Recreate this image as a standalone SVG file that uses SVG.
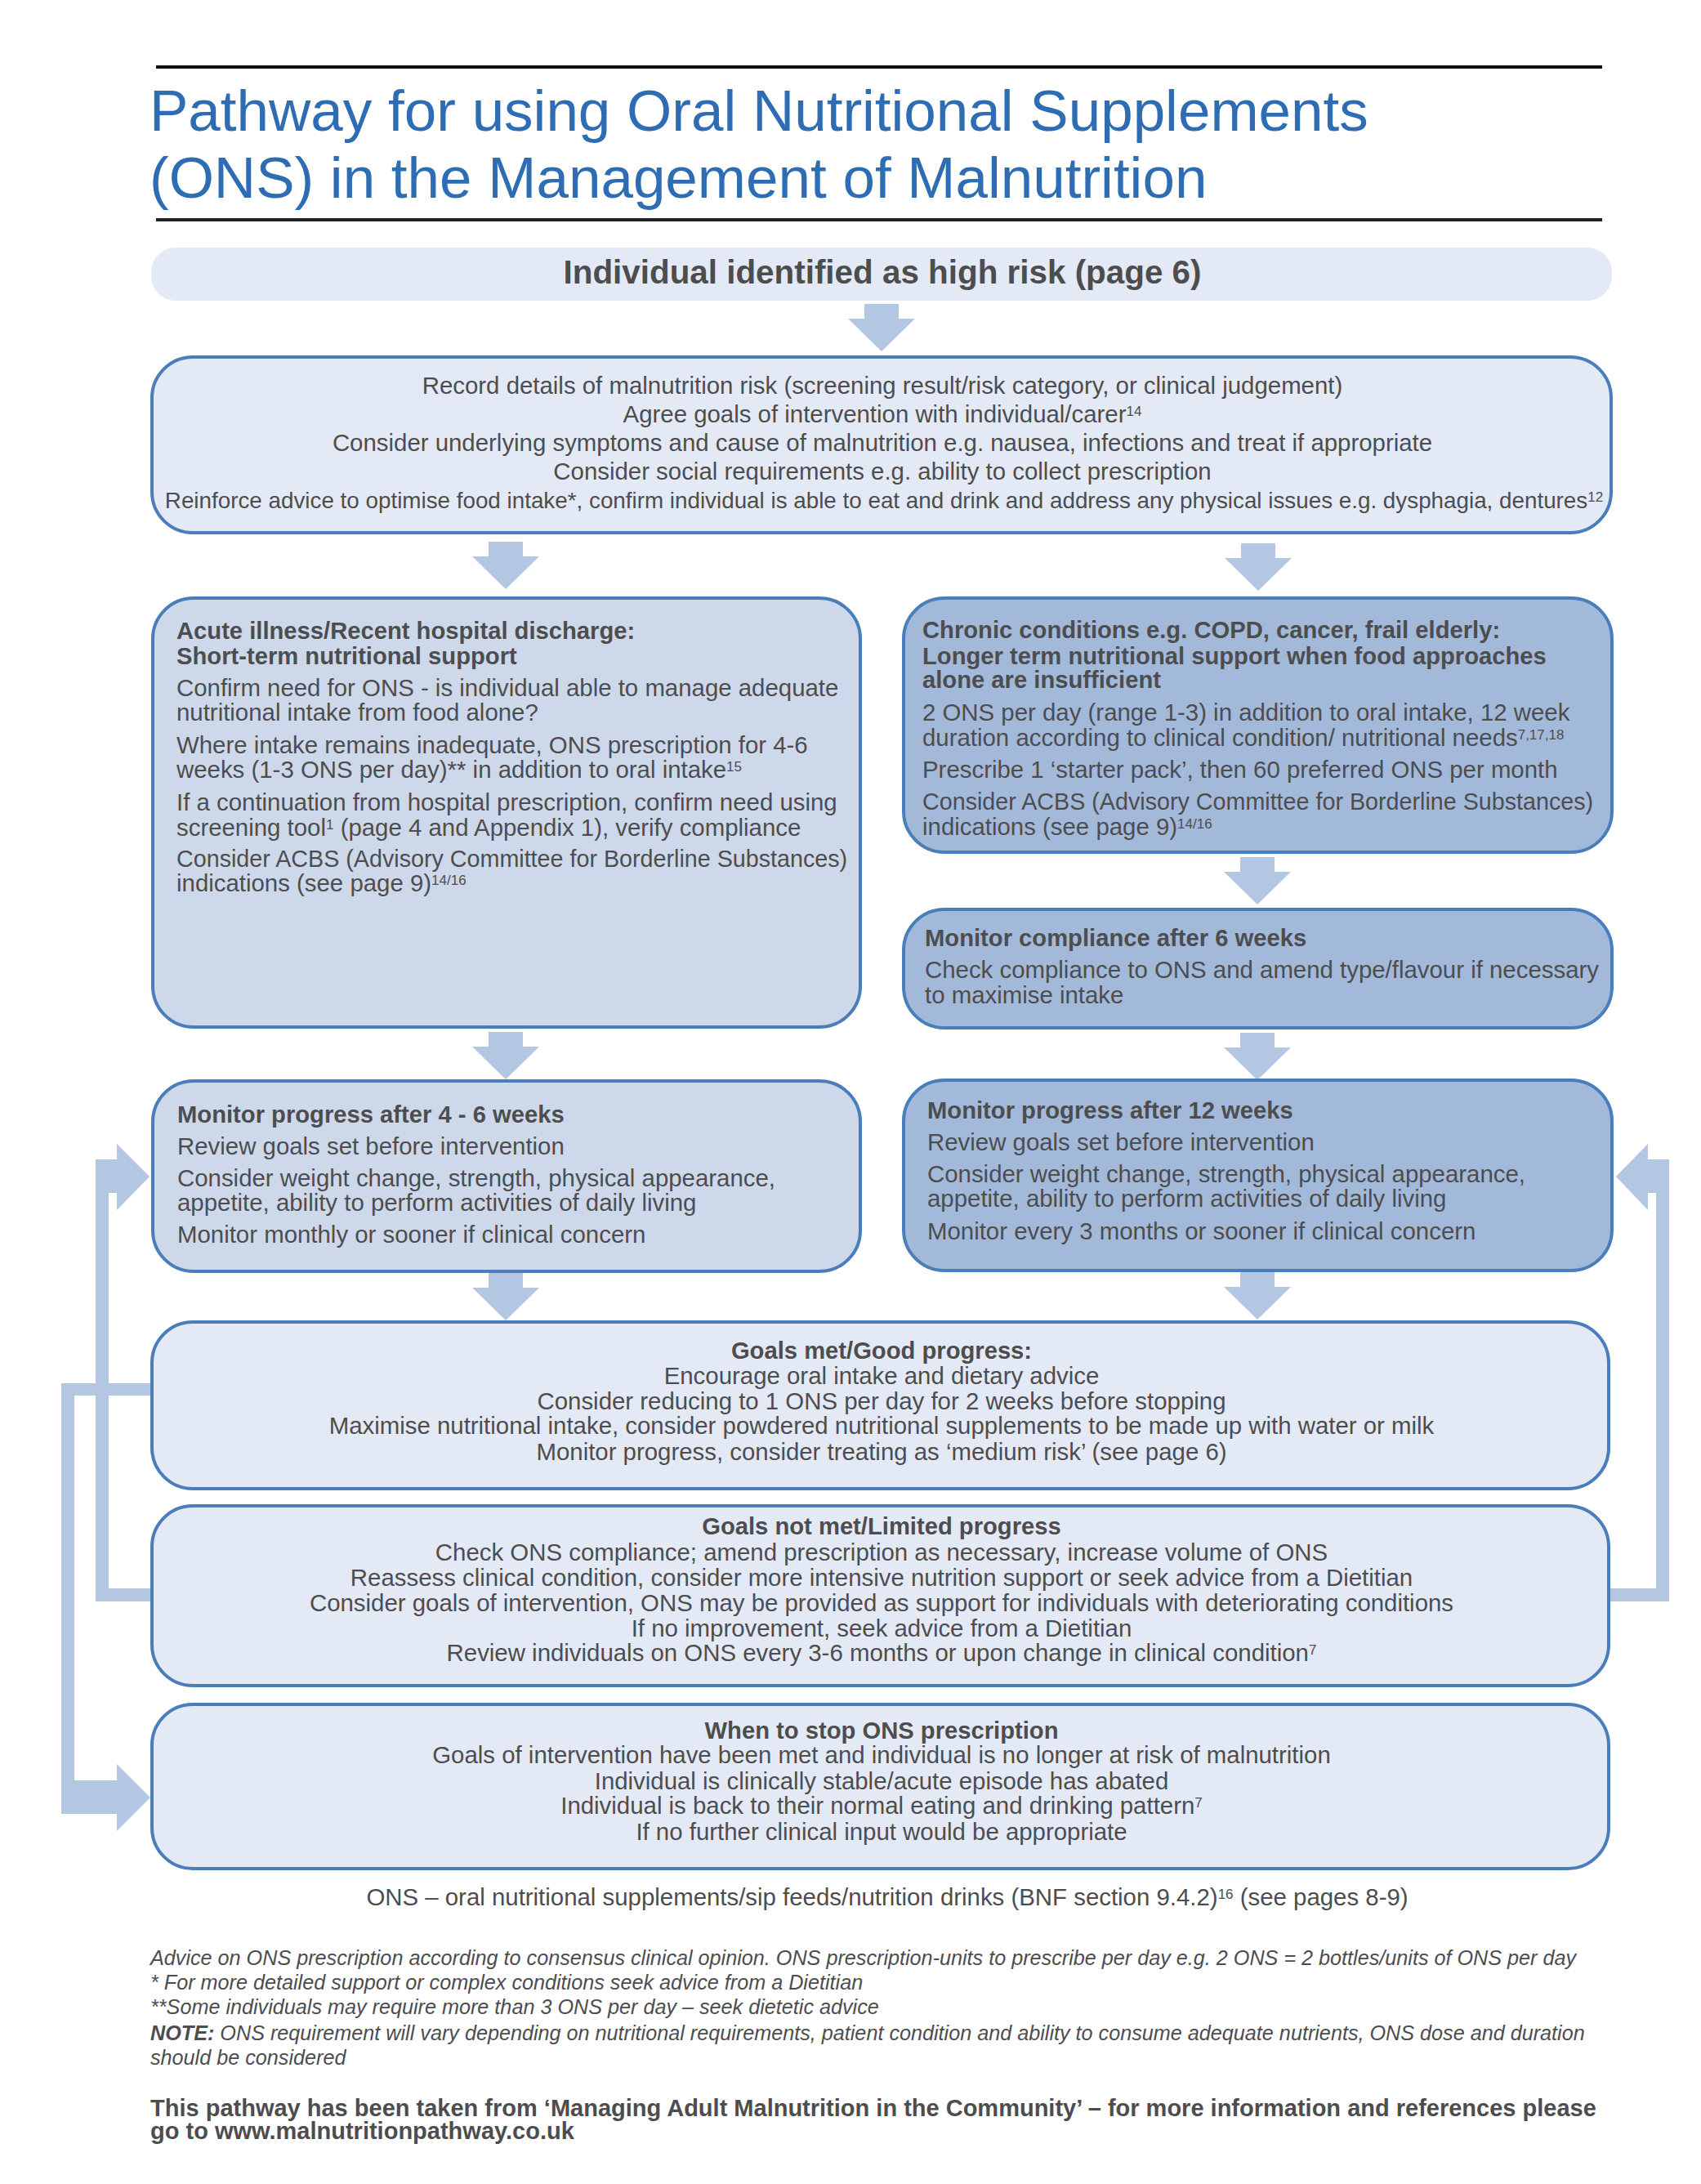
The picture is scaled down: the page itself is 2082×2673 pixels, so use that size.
<svg xmlns="http://www.w3.org/2000/svg" width="2082" height="2673" viewBox="0 0 2082 2673">
<defs>
<style>
text{font-family:"Liberation Sans",Arial,Helvetica,sans-serif;fill:#4d4d4f;}
.title{font-size:71px;fill:#2e6db3;}
.banner{font-size:40.4px;font-weight:bold;}
.t{font-size:29.4px;}
.b{font-size:29.2px;font-weight:bold;}
.acbs{font-size:28.7px;}
.long{font-size:27.8px;}
.c{text-anchor:middle;}
.sup{font-size:17px;baseline-shift:45%;}
.note{font-size:25.2px;font-style:italic;}
.fb{font-size:29px;font-weight:bold;}
.box{stroke:#4a7ebb;stroke-width:4;}
.light{fill:#e4eaf5;}
.mid{fill:#cdd9ea;}
.dark{fill:#a3b9da;}
.arr{fill:#b3c6e2;}
</style>
<path id="darr" d="M-21 0 H21 V18 H41 L0 58 L-41 18 H-21 Z"/>
</defs>
<rect width="2082" height="2673" fill="#ffffff"/>
<g id="header">
<rect x="191" y="80" width="1770" height="4" fill="#111"/>
<text class="title" x="183" y="160">Pathway for using Oral Nutritional Supplements</text>
<text class="title" x="183" y="242">(ONS) in the Management of Malnutrition</text>
<rect x="191" y="267" width="1770" height="4" fill="#222"/>
</g>
<g id="connectors" class="arr">
<use href="#darr" x="1079" y="372"/>
<use href="#darr" x="619" y="663"/>
<use href="#darr" x="1540" y="665"/>
<use href="#darr" x="1539" y="1049"/>
<use href="#darr" x="619" y="1263"/>
<use href="#darr" x="1539" y="1264"/>
<use href="#darr" x="619" y="1558"/>
<use href="#darr" x="1539" y="1557"/>
<path d="M185 1944 H133 V1460 H143 V1481 L183 1440 L143 1400 V1419 H117 V1960 H185 Z"/>
<path d="M185 1693 H75 V2220 H143 V2241 L184 2200 L143 2159 V2179 H91 V1708 H185 Z"/>
<path d="M1968 1944 H2027 V1460 H2017 V1481 L1978 1440 L2017 1400 V1419 H2043 V1960 H1968 Z"/>
</g>
<g id="n-banner">
<rect x="185" y="303" width="1788" height="65" rx="30" fill="#e4eaf5"/>
<text class="banner c" x="1080" y="347">Individual identified as high risk (page 6)</text>
</g>
<g id="n-record">
<rect class="box light" x="186" y="437" width="1786" height="215" rx="50"/>
<text class="t c" x="1080" y="482">Record details of malnutrition risk (screening result/risk category, or clinical judgement)</text>
<text class="t c" x="1080" y="517">Agree goals of intervention with individual/carer<tspan class="sup">14</tspan></text>
<text class="t c" x="1080" y="552">Consider underlying symptoms and cause of malnutrition e.g. nausea, infections and treat if appropriate</text>
<text class="t c" x="1080" y="587">Consider social requirements e.g. ability to collect prescription</text>
<text class="long c" x="1082" y="622">Reinforce advice to optimise food intake*, confirm individual is able to eat and drink and address any physical issues e.g. dysphagia, dentures<tspan class="sup">12</tspan></text>
</g>
<g id="n-acute">
<rect class="box mid" x="187" y="732" width="866" height="525" rx="50"/>
<text class="b" x="216" y="782">Acute illness/Recent hospital discharge:</text>
<text class="b" x="216" y="813">Short-term nutritional support</text>
<text class="t" x="216" y="852">Confirm need for ONS - is individual able to manage adequate</text>
<text class="t" x="216" y="882">nutritional intake from food alone?</text>
<text class="t" x="216" y="922">Where intake remains inadequate, ONS prescription for 4-6</text>
<text class="t" x="216" y="952">weeks (1-3 ONS per day)** in addition to oral intake<tspan class="sup">15</tspan></text>
<text class="t" x="216" y="992">If a continuation from hospital prescription, confirm need using</text>
<text class="t" x="216" y="1023">screening tool<tspan class="sup">1</tspan> (page 4 and Appendix 1), verify compliance</text>
<text class="acbs" x="216" y="1061">Consider ACBS (Advisory Committee for Borderline Substances)</text>
<text class="t" x="216" y="1091">indications (see page 9)<tspan class="sup">14/16</tspan></text>
</g>
<g id="n-chronic">
<rect class="box dark" x="1106" y="732" width="867" height="311" rx="50"/>
<text class="b" x="1129" y="781">Chronic conditions e.g. COPD, cancer, frail elderly:</text>
<text class="b" x="1129" y="813">Longer term nutritional support when food approaches</text>
<text class="b" x="1129" y="842">alone are insufficient</text>
<text class="t" x="1129" y="882">2 ONS per day (range 1-3) in addition to oral intake, 12 week</text>
<text class="t" x="1129" y="913">duration according to clinical condition/ nutritional needs<tspan class="sup">7,17,18</tspan></text>
<text class="t" x="1129" y="952">Prescribe 1 ‘starter pack’, then 60 preferred ONS per month</text>
<text class="acbs" x="1129" y="991">Consider ACBS (Advisory Committee for Borderline Substances)</text>
<text class="t" x="1129" y="1022">indications (see page 9)<tspan class="sup">14/16</tspan></text>
</g>
<g id="n-compliance">
<rect class="box dark" x="1106" y="1113" width="867" height="145" rx="50"/>
<text class="b" x="1132" y="1158">Monitor compliance after 6 weeks</text>
<text class="t" x="1132" y="1197">Check compliance to ONS and amend type/flavour if necessary</text>
<text class="t" x="1132" y="1228">to maximise intake</text>
</g>
<g id="n-monitor46">
<rect class="box mid" x="187" y="1323" width="866" height="233" rx="50"/>
<text class="b" x="217" y="1374">Monitor progress after 4 - 6 weeks</text>
<text class="t" x="217" y="1413">Review goals set before intervention</text>
<text class="t" x="217" y="1452">Consider weight change, strength, physical appearance,</text>
<text class="t" x="217" y="1482">appetite, ability to perform activities of daily living</text>
<text class="t" x="217" y="1521">Monitor monthly or sooner if clinical concern</text>
</g>
<g id="n-monitor12">
<rect class="box dark" x="1106" y="1322" width="867" height="233" rx="50"/>
<text class="b" x="1135" y="1369">Monitor progress after 12 weeks</text>
<text class="t" x="1135" y="1408">Review goals set before intervention</text>
<text class="t" x="1135" y="1447">Consider weight change, strength, physical appearance,</text>
<text class="t" x="1135" y="1477">appetite, ability to perform activities of daily living</text>
<text class="t" x="1135" y="1517">Monitor every 3 months or sooner if clinical concern</text>
</g>
<g id="n-goalsmet">
<rect class="box light" x="186" y="1618" width="1783" height="204" rx="50"/>
<text class="b c" x="1079" y="1663">Goals met/Good progress:</text>
<text class="t c" x="1079" y="1694">Encourage oral intake and dietary advice</text>
<text class="t c" x="1079" y="1725">Consider reducing to 1 ONS per day for 2 weeks before stopping</text>
<text class="t c" x="1079" y="1755">Maximise nutritional intake, consider powdered nutritional supplements to be made up with water or milk</text>
<text class="t c" x="1079" y="1787">Monitor progress, consider treating as ‘medium risk’ (see page 6)</text>
</g>
<g id="n-goalsnot">
<rect class="box light" x="186" y="1843" width="1783" height="220" rx="50"/>
<text class="b c" x="1079" y="1878">Goals not met/Limited progress</text>
<text class="t c" x="1079" y="1910">Check ONS compliance; amend prescription as necessary, increase volume of ONS</text>
<text class="t c" x="1079" y="1941">Reassess clinical condition, consider more intensive nutrition support or seek advice from a Dietitian</text>
<text class="t c" x="1079" y="1972">Consider goals of intervention, ONS may be provided as support for individuals with deteriorating conditions</text>
<text class="t c" x="1079" y="2003">If no improvement, seek advice from a Dietitian</text>
<text class="t c" x="1079" y="2033">Review individuals on ONS every 3-6 months or upon change in clinical condition<tspan class="sup">7</tspan></text>
</g>
<g id="n-stop">
<rect class="box light" x="186" y="2086" width="1783" height="201" rx="50"/>
<text class="b c" x="1079" y="2128">When to stop ONS prescription</text>
<text class="t c" x="1079" y="2158">Goals of intervention have been met and individual is no longer at risk of malnutrition</text>
<text class="t c" x="1079" y="2190">Individual is clinically stable/acute episode has abated</text>
<text class="t c" x="1079" y="2220">Individual is back to their normal eating and drinking pattern<tspan class="sup">7</tspan></text>
<text class="t c" x="1079" y="2252">If no further clinical input would be appropriate</text>
</g>
<g id="footer">
<text class="t c" x="1086" y="2332">ONS – oral nutritional supplements/sip feeds/nutrition drinks (BNF section 9.4.2)<tspan class="sup">16</tspan> (see pages 8-9)</text>
<text class="note" x="184" y="2405">Advice on ONS prescription according to consensus clinical opinion. ONS prescription-units to prescribe per day e.g. 2 ONS = 2 bottles/units of ONS per day</text>
<text class="note" x="184" y="2435">* For more detailed support or complex conditions seek advice from a Dietitian</text>
<text class="note" x="184" y="2465">**Some individuals may require more than 3 ONS per day – seek dietetic advice</text>
<text class="note" x="184" y="2497"><tspan font-weight="bold">NOTE:</tspan> ONS requirement will vary depending on nutritional requirements, patient condition and ability to consume adequate nutrients, ONS dose and duration</text>
<text class="note" x="184" y="2527">should be considered</text>
<text class="fb" x="184" y="2590">This pathway has been taken from ‘Managing Adult Malnutrition in the Community’ – for more information and references please</text>
<text class="fb" x="184" y="2618">go to www.malnutritionpathway.co.uk</text>
</g>
</svg>
